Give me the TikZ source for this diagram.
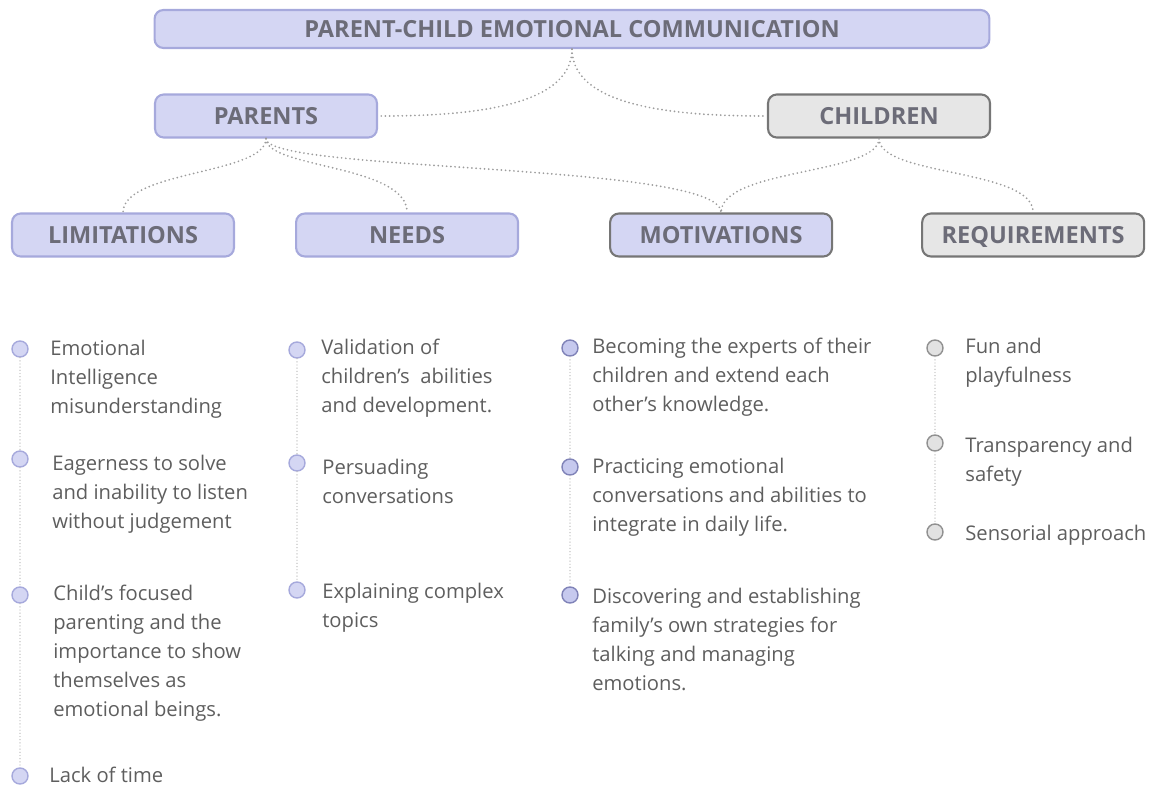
\documentclass[tikz,border=0pt]{standalone}
\usepackage{fontspec}
\setmainfont{Open Sans}
\usetikzlibrary{positioning}
\definecolor{LavFill}{HTML}{D4D6F3}
\definecolor{LavLine}{HTML}{A6A9DC}
\definecolor{LavDeep}{HTML}{C6C9EE}
\definecolor{LavDark}{HTML}{8083B8}
\definecolor{GreyFill}{HTML}{E6E6E6}
\definecolor{GreyLine}{HTML}{767676}
\definecolor{GreyDot}{HTML}{E2E2E2}
\definecolor{HeadText}{HTML}{6C6C78}
\definecolor{BodyText}{HTML}{5E5E5E}
\definecolor{DotGray}{HTML}{9C9C9C}
\definecolor{StemGray}{HTML}{BBBBBB}

\begin{document}
\begin{tikzpicture}[x=0.02cm,y=-0.02cm,
  box/.style={rectangle,rounded corners=5pt,draw=LavLine,fill=LavFill,line width=1.2pt,minimum width=4.44cm,minimum height=0.86cm,text height=9.6pt,text depth=0pt,font=\bfseries\fontsize{13.4}{15}\selectfont,text=HeadText},
  kid/.style={box,draw=GreyLine,fill=GreyFill},
  mixed/.style={box,draw=GreyLine},
  link/.style={draw=DotGray,line width=1.1pt,dash pattern=on 0pt off 2.4pt,line cap=round},
  stem/.style={draw=StemGray,line width=0.8pt,dash pattern=on 0pt off 1.8pt,line cap=round},
  bul/.style={circle,draw=LavLine,fill=LavFill,line width=0.8pt,minimum size=0.32cm,inner sep=0pt},
  bulm/.style={bul,draw=LavDark,fill=LavDeep},
  bulc/.style={bul,draw=GreyLine!80,fill=GreyDot},
  item/.style={anchor=north west,inner sep=0pt,align=left,text=BodyText,font=\fontsize{11.5}{16.4}\selectfont}]
\useasboundingbox (0,0) rectangle (1153,787);
% boxes
\node[box,minimum width=16.7cm,minimum height=0.76cm] (title) at (572,29) {PARENT-CHILD EMOTIONAL COMMUNICATION};
\node[box] (parents) at (266,116) {PARENTS};
\node[kid] (children) at (879,116) {CHILDREN};
\node[box] (limits) at (123,235) {LIMITATIONS};
\node[box,right=1.20cm of limits] (needs) {NEEDS};
\node[mixed,right=1.80cm of needs] (motiv) {MOTIVATIONS};
\node[kid,right=1.76cm of motiv] (reqs) {REQUIREMENTS};
% connectors
\draw[link] (title.south) .. controls +(0,62) and +(75,0) .. (parents.east);
\draw[link] (title.south) .. controls +(0,62) and +(-75,0) .. (children.west);
\draw[link] (parents.south) .. controls +(0,36) and +(0,-42) .. (limits.north);
\draw[link] (parents.south) .. controls +(0,30) and +(0,-48) .. (needs.north);
\draw[link] (parents.south) .. controls +(0,34) and +(0,-50) .. (motiv.north);
\draw[link] (children.south) .. controls +(0,36) and +(0,-44) .. (motiv.north);
\draw[link] (children.south) .. controls +(0,38) and +(0,-44) .. (reqs.north);
% limitations
\node[bul] (l1) at (20,349) {};
\node[bul] (l2) at (20,459) {};
\node[bul] (l3) at (20,595) {};
\node[bul] (l4) at (20,776) {};
\draw[stem] (l1) -- (l2);
\draw[stem] (l2) -- (l3);
\draw[stem] (l3) -- (l4);
\node[item] (lt1) at (50,340) {Emotional\\Intelligence\\misunderstanding};
\node[item] (lt2) at (52,455) {Eagerness to solve\\and inability to listen\\without judgement};
\node[item] (lt3) at (53,585) {Child's focused\\parenting and the\\importance to show\\themselves as\\emotional beings.};
\node[item] (lt4) at (49,767) {Lack of time};
% needs
\node[bul] (n1) at (297,350) {};
\node[bul] (n2) at (297,463) {};
\node[bul] (n3) at (297,590) {};
\draw[stem] (n1) -- (n2);
\draw[stem] (n2) -- (n3);
\node[item] (nt1) at (321,339) {Validation of\\children's~ abilities\\and development.};
\node[item] (nt2) at (322,459) {Persuading\\conversations};
\node[item] (nt3) at (322,583) {Explaining complex\\topics};
% motivations
\node[bulm] (m1) at (570,348) {};
\node[bulm] (m2) at (570,467) {};
\node[bulm] (m3) at (570,595) {};
\draw[stem] (m1) -- (m2);
\draw[stem] (m2) -- (m3);
\node[item] (mt1) at (592,338) {Becoming the experts of their\\children and extend each\\other's knowledge.};
\node[item] (mt2) at (592,458) {Practicing emotional\\conversations and abilities to\\integrate in daily life.};
\node[item] (mt3) at (592,588) {Discovering and establishing\\family's own strategies for\\talking and managing\\emotions.};
% requirements
\node[bulc] (r1) at (935,348) {};
\node[bulc] (r2) at (935,443) {};
\node[bulc] (r3) at (935,532) {};
\draw[stem] (r1) -- (r2);
\draw[stem] (r2) -- (r3);
\node[item] (rt1) at (965,338) {Fun and\\playfulness};
\node[item] (rt2) at (965,437) {Transparency and\\safety};
\node[item] (rt3) at (965,525) {Sensorial approach};
\end{tikzpicture}
\end{document}
